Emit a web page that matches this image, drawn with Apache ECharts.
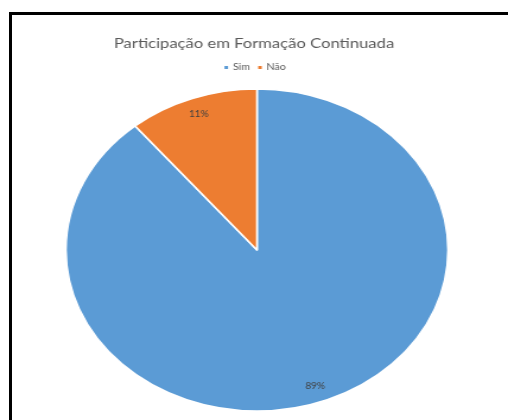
<!DOCTYPE html>
<html><head><meta charset="utf-8">
<script src="https://cdn.jsdelivr.net/npm/echarts@6/dist/echarts.min.js"></script>
<style>
html,body{margin:0;padding:0;background:#fff;overflow:hidden;}
#wrap{width:508px;height:420px;position:relative;overflow:hidden;}
#c{width:428px;height:420px;position:absolute;left:0;top:0;transform:scaleX(1.1869);transform-origin:0 0;}
#frame{position:absolute;left:9px;top:12px;width:520px;height:430px;border-left:3px solid #000;border-top:3px solid #000;pointer-events:none;}
</style></head>
<body><div id="wrap"><div id="c"></div><div id="frame"></div></div>
<script>
const titleText = 'Participação em Formação Continuada';
const categories = ['Sim', 'Não'];
const values = [89, 11];
const colors = ['#5B9BD5', '#ED7D31'];

const data = categories.map((n, i) => ({ name: n, value: values[i] }));
const chart = echarts.init(document.getElementById('c'), null, { renderer: 'canvas' });
const cx = 216.5, cy = 250, R = 161;
chart.setOption({
  animation: false,
  color: colors,
  title: {
    text: titleText, left: 'center', top: 31,
    textStyle: { fontFamily: 'Lato', fontSize: 14, fontWeight: 'normal', color: '#595959' }
  },
  legend: {
    data: categories, left: 'center', top: 58,
    itemWidth: 5, itemHeight: 5, itemGap: 5, icon: 'rect',
    textStyle: { fontFamily: 'Lato', fontSize: 9, color: '#595959', padding: [0, 0, 0, -2] }
  },
  series: [
    {
      type: 'pie', center: [cx, cy], radius: [0, R], startAngle: 90, clockwise: true,
      data: data, label: { show: false }, labelLine: { show: false },
      itemStyle: { borderColor: '#fff', borderWidth: 1.6 }, silent: true
    },
    {
      type: 'pie', center: [cx, cy], radius: [R * 0.76, R], startAngle: 90, clockwise: true,
      data: data, silent: true, z: 3,
      itemStyle: { color: 'rgba(0,0,0,0)', borderWidth: 0 },
      emphasis: { disabled: true },
      label: {
        show: true, position: 'inside', formatter: '{d}%',
        fontFamily: 'Lato', fontSize: 8.5, color: '#404040'
      },
      labelLine: { show: false }
    }
  ]
});
</script></body></html>
